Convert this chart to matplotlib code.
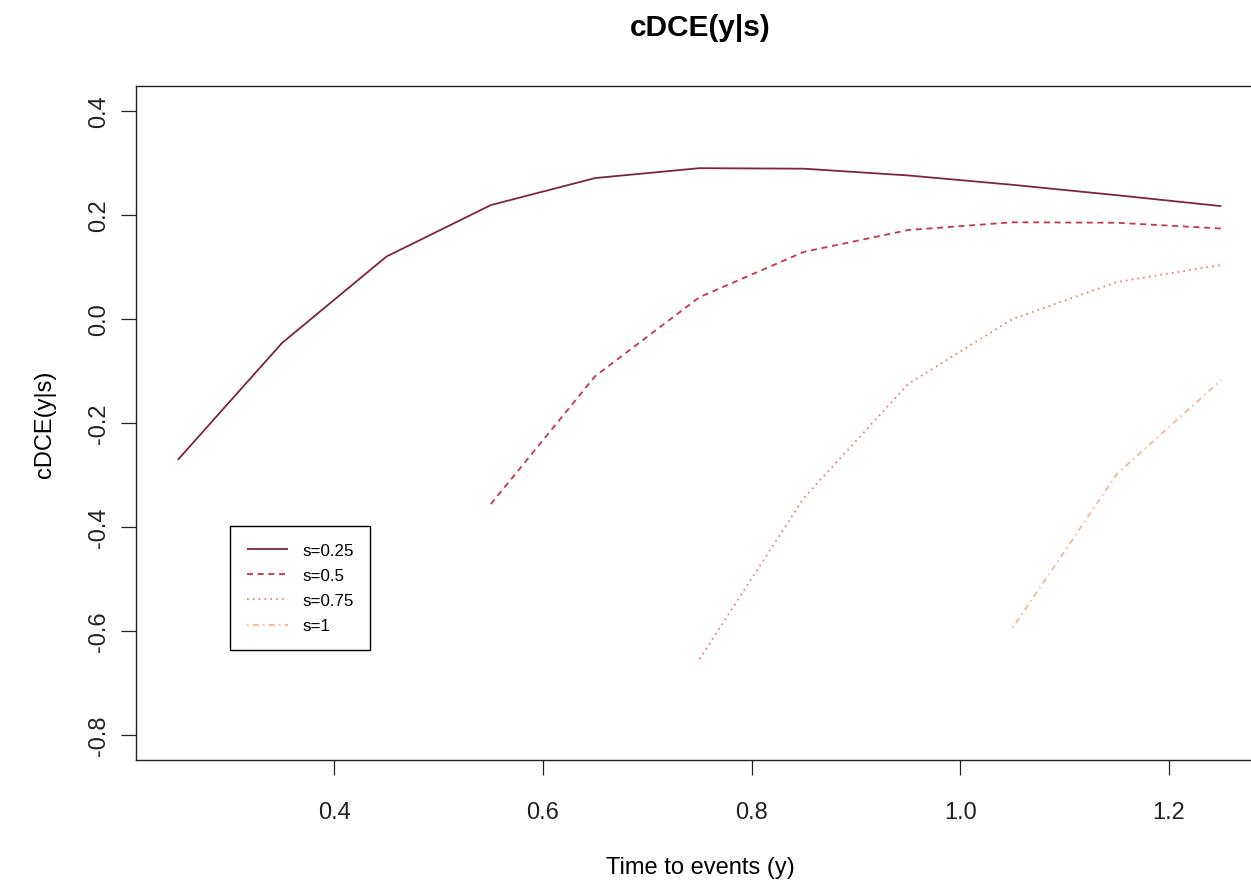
import matplotlib
matplotlib.use("Agg")
import matplotlib.pyplot as plt

plt.rcParams['font.family'] = ['Liberation Sans', 'DejaVu Sans']
plt.rcParams['lines.scale_dashes'] = False

# ---- data ----
x_s025 = [0.25, 0.35, 0.45, 0.55, 0.65, 0.75, 0.85, 0.95, 1.05, 1.15, 1.25]
y_s025 = [-0.271, -0.046, 0.120, 0.219, 0.271, 0.290, 0.289, 0.276, 0.258, 0.238, 0.217]
x_s05 = [0.55, 0.65, 0.75, 0.85, 0.95, 1.05, 1.15, 1.25]
y_s05 = [-0.356, -0.110, 0.042, 0.129, 0.171, 0.186, 0.185, 0.174]
x_s075 = [0.75, 0.85, 0.95, 1.05, 1.15, 1.25]
y_s075 = [-0.654, -0.344, -0.125, 0.000, 0.071, 0.104]
x_s1 = [1.05, 1.15, 1.25]
y_s1 = [-0.594, -0.298, -0.117]
labels = ["s=0.25", "s=0.5", "s=0.75", "s=1"]
xticks = [0.4, 0.6, 0.8, 1.0, 1.2]
yticks = [-0.8, -0.6, -0.4, -0.2, 0.0, 0.2, 0.4]

colors = ["#7E2248", "#C8344C", "#F07D6E", "#F9B796"]
styles = [(0, ()), (0, (4.3, 3.4)), (0, (1.2, 3.0)), (0, (1.2, 3.0, 4.3, 3.0))]

W, H = 1251, 887
fig = plt.figure(figsize=(W / 100, H / 100), dpi=100)
ax = fig.add_axes([136 / W, (H - 761) / H, (1263 - 136) / W, (761 - 87) / H])

series = [(x_s025, y_s025), (x_s05, y_s05), (x_s075, y_s075), (x_s1, y_s1)]
handles = []
for (xs, ys), c, ls, lab in zip(series, colors, styles, labels):
    h, = ax.plot(xs, ys, color=c, linestyle=ls, linewidth=1.3, label=lab)
    handles.append(h)

ax.set_xlim(0.21, 1.29)
ax.set_ylim(-0.848, 0.448)
ax.set_xticks(xticks)
ax.set_xticklabels([f"{v:.1f}" for v in xticks])
ax.set_yticks(yticks)
ax.set_yticklabels([f"{v:.1f}" for v in yticks])
ax.tick_params(axis='both', direction='out', length=10.5, width=0.9, labelsize=17, colors='#222222')
ax.tick_params(axis='x', pad=19)
ax.tick_params(axis='y', pad=8, labelrotation=90)
for lab in ax.get_yticklabels():
    lab.set_va('center')
for sp in ax.spines.values():
    sp.set_linewidth(1.0)
    sp.set_color('#222222')

fig.text(700 / W, 1 - 868 / H, "Time to events (y)", ha='center', va='center', fontsize=17)
fig.text(45 / W, 1 - 424 / H, "cDCE(y|s)", ha='center', va='center', rotation=90, fontsize=17)
fig.text(700 / W, 1 - 28 / H, "cDCE(y|s)", ha='center', va='center', fontsize=21.5, fontweight='bold')

leg = ax.legend(handles=handles, loc='upper left',
                bbox_to_anchor=(230 / W, 1 - 527 / H), bbox_transform=fig.transFigure,
                fancybox=False, edgecolor='black', framealpha=1, fontsize=12.2,
                handlelength=2.4, handletextpad=0.85, borderpad=1.0, labelspacing=0.6,
                borderaxespad=0)
leg.get_frame().set_linewidth(1.0)

fig.savefig("out.png", dpi=100)
